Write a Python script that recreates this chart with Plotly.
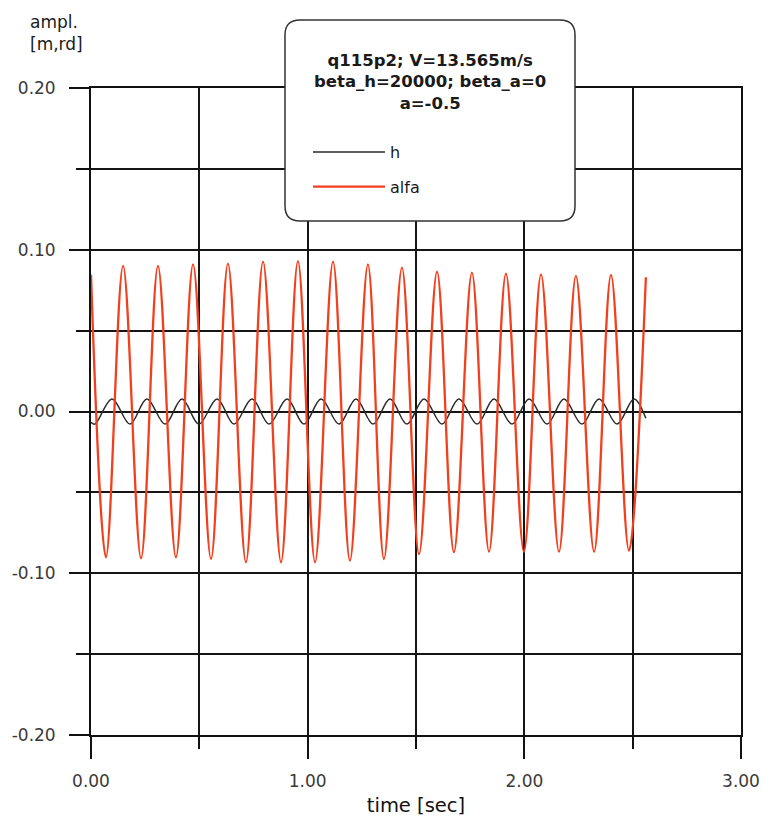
import plotly.graph_objects as go

# ---------------- data ----------------
# alfa (red): start value, local maxima, local minima, end value
alfa_start_t, alfa_start_v = 0.0, 0.0845
alfa_peak_t = [0.148, 0.309, 0.471, 0.632, 0.794, 0.955, 1.117, 1.278,
               1.435, 1.597, 1.758, 1.915, 2.077, 2.238, 2.400]
alfa_peak_v = [0.0900, 0.0900, 0.0910, 0.0914, 0.0926, 0.0930, 0.0926, 0.0910,
               0.0889, 0.0864, 0.0858, 0.0852, 0.0848, 0.0838, 0.0844]
alfa_trough_t = [0.069, 0.231, 0.392, 0.554, 0.715, 0.877, 1.034, 1.195,
                 1.352, 1.514, 1.675, 1.837, 1.998, 2.160, 2.322, 2.483]
alfa_trough_v = [-0.0901, -0.0908, -0.0901, -0.0912, -0.0932, -0.0932, -0.0932, -0.0922,
                 -0.0912, -0.0881, -0.0870, -0.0867, -0.0867, -0.0867, -0.0867, -0.0861]
alfa_end_t, alfa_end_v = 2.561, 0.0830

# h (black): start value, local maxima, local minima, end value
h_start_t, h_start_v = 0.0, -0.0066
h_peak_t = [0.097, 0.258, 0.420, 0.582, 0.743, 0.905, 1.062, 1.223,
            1.380, 1.537, 1.698, 1.860, 2.022, 2.183, 2.345, 2.506]
h_peak_v = [0.0078, 0.0078, 0.0078, 0.0078, 0.0078, 0.0078, 0.0078, 0.0078,
            0.0078, 0.0078, 0.0078, 0.0078, 0.0078, 0.0078, 0.0078, 0.0078]
h_trough_t = [0.018, 0.180, 0.342, 0.498, 0.660, 0.822, 0.983, 1.145,
              1.302, 1.458, 1.620, 1.782, 1.943, 2.105, 2.266, 2.428]
h_trough_v = [-0.0078, -0.0078, -0.0078, -0.0078, -0.0078, -0.0078, -0.0078, -0.0078,
              -0.0078, -0.0078, -0.0078, -0.0078, -0.0078, -0.0078, -0.0078, -0.0078]
h_end_t, h_end_v = 2.561, -0.0042

x_tick_vals = [0, 1, 2, 3]
x_tick_labels = ["0.00", "1.00", "2.00", "3.00"]
y_tick_vals = [-0.2, -0.1, 0.0, 0.1, 0.2]
y_tick_labels = ["-0.20", "-0.10", "0.00", "0.10", "0.20"]

title_lines = ["q115p2; V=13.565m/s", "beta_h=20000; beta_a=0", "a=-0.5"]


def series(st, sv, pt, pv, tt, tv, et, ev):
    pts = [(st, sv)] + list(zip(pt, pv)) + list(zip(tt, tv)) + [(et, ev)]
    pts.sort(key=lambda p: p[0])
    return [p[0] for p in pts], [p[1] for p in pts]


h_t, h_v = series(h_start_t, h_start_v, h_peak_t, h_peak_v,
                  h_trough_t, h_trough_v, h_end_t, h_end_v)
a_t, a_v = series(alfa_start_t, alfa_start_v, alfa_peak_t, alfa_peak_v,
                  alfa_trough_t, alfa_trough_v, alfa_end_t, alfa_end_v)

# ---------------- layout geometry ----------------
W, H = 762, 818
L, R, T, B = 91, 741, 88, 735  # plot area in pixels


def px(x):
    return (x - L) / (R - L)


def py(y):
    return (B - y) / (B - T)


FONT = "DejaVu Sans"
GRID = "#151515"

fig = go.Figure()
fig.add_trace(go.Scatter(x=h_t, y=h_v, mode="lines", name="h", legendgroup="h",
                         line=dict(color="#2a2a2a", width=1.5, shape="spline", smoothing=1)))
fig.add_trace(go.Scatter(x=a_t, y=a_v, mode="lines", name="alfa", legendgroup="alfa",
                         line=dict(color="#f2401e", width=2.3, shape="spline", smoothing=1)))

# rounded legend box
bx0, bx1, by0, by1, r = 285, 575, 20, 221, 15
pts = [
    ("M", bx0 + r, by0), ("L", bx1 - r, by0), ("Q", bx1, by0, bx1, by0 + r),
    ("L", bx1, by1 - r), ("Q", bx1, by1, bx1 - r, by1), ("L", bx0 + r, by1),
    ("Q", bx0, by1, bx0, by1 - r), ("L", bx0, by0 + r), ("Q", bx0, by0, bx0 + r, by0),
]
path = ""
for p in pts:
    cmd = p[0]
    coords = p[1:]
    s = []
    for i in range(0, len(coords), 2):
        s.append(f"{px(coords[i]):.5f},{py(coords[i+1]):.5f}")
    path += cmd + " " + " ".join(s) + " "
path += "Z"

fig.add_shape(type="path", path=path, xref="paper", yref="paper",
              fillcolor="white", line=dict(color="#333333", width=1.5), layer="above")

fig.add_annotation(text="<br>".join(title_lines), x=px(430), y=py(82),
                   xref="paper", yref="paper", xanchor="center", yanchor="middle",
                   showarrow=False, align="center",
                   font=dict(family=FONT, size=16.5, color="#1a1a1a", weight="bold"))

fig.add_annotation(text="ampl.<br>[m,rd]", x=px(28), y=py(10),
                   xref="paper", yref="paper", xanchor="left", yanchor="top",
                   showarrow=False, align="left",
                   font=dict(family=FONT, size=17, color="#1a1a1a"))

axis_common = dict(showgrid=True, gridcolor=GRID, gridwidth=1.6, zeroline=False,
                   showline=True, linecolor="#111111", linewidth=1.8, mirror=True,
                   ticks="outside", tickcolor="#111111", tickwidth=1.8,
                   tickfont=dict(family=FONT, size=17, color="#3a3a3a"),
                   tickmode="array", automargin=False)

fig.update_xaxes(range=[0, 3], tickvals=x_tick_vals, ticktext=x_tick_labels,
                 ticklen=22, ticklabelstandoff=8,
                 minor=dict(dtick=0.5, tick0=0, ticklen=12, tickwidth=1.8, tickcolor="#111111",
                            showgrid=True, gridcolor=GRID, gridwidth=1.6, ticks="outside"),
                 title=dict(text="time [sec]", standoff=8,
                            font=dict(family=FONT, size=19.5, color="#111111")),
                 **axis_common)
fig.update_yaxes(range=[-0.2, 0.2], tickvals=y_tick_vals, ticktext=y_tick_labels,
                 ticklen=20, ticklabelstandoff=10,
                 minor=dict(dtick=0.05, tick0=0, ticklen=13, tickwidth=1.8, tickcolor="#111111",
                            showgrid=True, gridcolor=GRID, gridwidth=1.6, ticks="outside"),
                 **axis_common)

fig.update_layout(
    width=W, height=H,
    margin=dict(l=L, r=W - R, t=T, b=H - B, pad=0, autoexpand=False),
    paper_bgcolor="white", plot_bgcolor="white",
    showlegend=True,
    legend=dict(x=px(308), y=py(135), xanchor="left", yanchor="top",
                bgcolor="rgba(0,0,0,0)", borderwidth=0, itemwidth=72,
                tracegroupgap=11, font=dict(family=FONT, size=16, color="#1a1a1a")),
    font=dict(family=FONT),
)

fig.write_html("out.html")
